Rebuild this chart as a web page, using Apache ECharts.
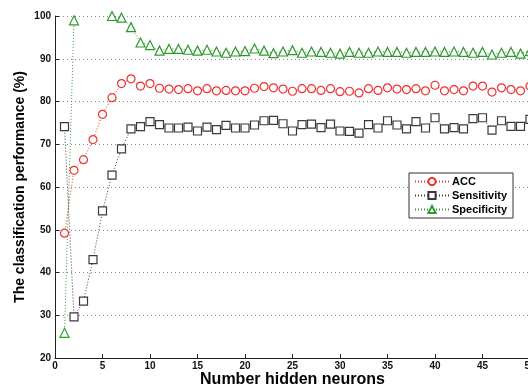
<!DOCTYPE html>
<html><head><meta charset="utf-8">
<script src="https://cdn.jsdelivr.net/npm/echarts@6/dist/echarts.min.js"></script>
<style>html,body{margin:0;padding:0;background:#fff}#c{width:528px;height:386px}</style>
</head><body><div id="c"></div>
<script>
const neurons = Array.from({length:50},(_,i)=>i+1);
const acc = [49.2,63.9,66.4,71.1,77.0,80.9,84.2,85.3,83.6,84.2,83.1,82.9,82.8,83.0,
  82.5,83.0,82.5,82.6,82.5,82.5,83.1,83.5,83.2,82.9,82.4,83.0,83.0,82.6,83.0,
  82.3,82.4,82.0,83.0,82.6,83.2,82.9,82.8,83.0,82.5,83.8,82.5,82.8,82.5,83.6,83.6,82.2,83.2,82.8,82.5,83.6];
const sensitivity = [74.1,29.6,33.3,43.0,54.4,62.8,68.9,73.6,74.1,75.3,74.6,73.8,73.8,74.0,
  73.1,74.0,73.4,74.4,73.8,73.8,74.5,75.5,75.6,74.8,73.1,74.6,74.7,73.9,74.7,
  73.1,73.0,72.6,74.6,73.8,75.5,74.5,73.6,75.3,73.8,76.2,73.6,73.9,73.6,76.0,76.2,73.3,75.5,74.2,74.2,75.8];
const specificity = [25.9,99.0,null,null,null,100,99.6,97.4,93.8,93.2,91.9,92.3,92.3,92.1,
  91.9,92.1,91.7,91.4,91.7,91.8,92.4,91.9,91.3,91.7,92.0,91.4,91.7,91.6,91.4,
  91.2,91.6,91.4,91.4,91.7,91.6,91.6,91.4,91.6,91.6,91.7,91.6,91.7,91.6,91.4,91.6,91.0,91.4,91.6,91.2,91.8];
const seriesNames = ['ACC','Sensitivity','Specificity'];
const xTicks = [0,5,10,15,20,25,30,35,40,45,50];
const yTicks = [20,30,40,50,60,70,80,90,100];

const font = 'Liberation Sans, Arial, sans-serif';
function pairs(arr){ return neurons.map((n,i)=>[n, arr[i]]); }
function mk(name, data, color, symbol, size){
  return {
    name, type:'line', data: pairs(data), symbol, symbolSize:size, connectNulls:false,
    showAllSymbol:true, clip:false,
    lineStyle:{color, width:1, type:[1,2]},
    itemStyle:{color:'#fff', borderColor:color, borderWidth:1.2},
    emphasis:{disabled:true}, animation:false
  };
}
const chart = echarts.init(document.getElementById('c'), null, {renderer:'canvas'});
chart.setOption({
  animation:false,
  backgroundColor:'#fff',
  grid:{left:55, right:-2, top:16, bottom:28, containLabel:false, outerBoundsMode:'none'},
  xAxis:{
    type:'value', min:0, max:50, interval:5,
    name:'Number hidden neurons', nameLocation:'middle', nameGap:14, nameMoveOverlap:false,
    nameTextStyle:{fontFamily:font, fontWeight:'bold', fontSize:16, color:'#000'},
    axisLine:{lineStyle:{color:'#222', width:1}},
    axisTick:{inside:true, length:4, lineStyle:{color:'#222'}},
    axisLabel:{fontFamily:font, fontWeight:'bold', fontSize:10, color:'#111', margin:3,
      hideOverlap:false, formatter:v=>xTicks.includes(v)?String(v):''},
    splitLine:{show:false}
  },
  yAxis:{
    type:'value', min:20, max:100, interval:10,
    name:'The classification performance (%)', nameLocation:'middle', nameGap:28, nameMoveOverlap:false,
    nameTextStyle:{fontFamily:font, fontWeight:'bold', fontSize:14, color:'#000'},
    axisLine:{show:true, lineStyle:{color:'#222', width:1}},
    axisTick:{show:true, inside:true, length:4, lineStyle:{color:'#222'}},
    axisLabel:{fontFamily:font, fontWeight:'bold', fontSize:10, color:'#111', margin:4,
      formatter:v=>yTicks.includes(v)?String(v):''},
    splitLine:{show:true, lineStyle:{color:'#888', width:1, type:[1,3]}}
  },
  legend:{
    data:seriesNames, orient:'vertical', left:409, top:173,
    backgroundColor:'#fff', borderColor:'#333', borderWidth:1,
    padding:[3,6,3,5], itemGap:3, itemWidth:34, itemHeight:9,
    textStyle:{fontFamily:font, fontWeight:'bold', fontSize:11, color:'#000', padding:[0,0,0,-2]}
  },
  series:[
    mk(seriesNames[0], acc, '#f03030', 'circle', 8),
    mk(seriesNames[1], sensitivity, '#3a3a3a', 'rect', 8),
    mk(seriesNames[2], specificity, '#2e9a2e', 'triangle', 9)
  ]
});
</script></body></html>
